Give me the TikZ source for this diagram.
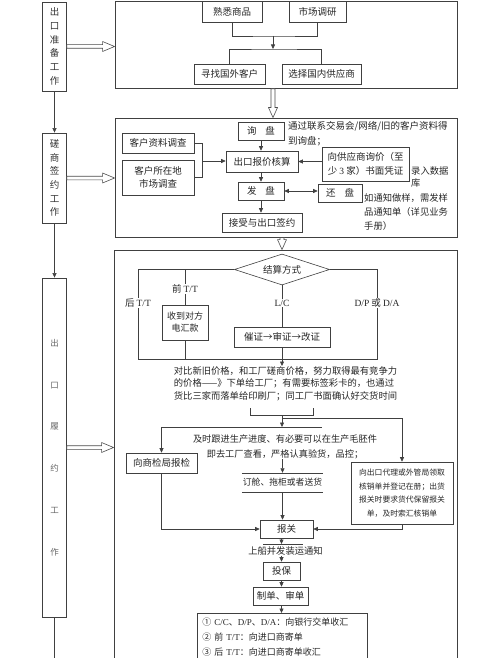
\documentclass[tikz,border=0pt]{standalone}
\usepackage{fontspec}
\setmainfont{Liberation Serif}
\newfontfamily\cjk{Noto Sans CJK SC}
\newfontfamily\lat{Liberation Serif}
\usetikzlibrary{arrows.meta,shapes.geometric,calc}
\newcommand\dblh[2]{\path[dbl] let \p1=(#1), \p2=(#2) in (\x1,\y1+1.8pt) -- (\x2-12pt,\y1+1.8pt) -- (\x2-12pt,\y1+5pt) -- (\x2,\y1) -- (\x2-12pt,\y1-5pt) -- (\x2-12pt,\y1-1.8pt) -- (\x1,\y1-1.8pt) -- cycle;}
\newcommand\dblv[2]{\path[dbl] let \p1=(#1), \p2=(#2) in (\x1-2pt,\y1) -- (\x1-2pt,\y2+10pt) -- (\x1-4.5pt,\y2+10pt) -- (\x1,\y2) -- (\x1+4.5pt,\y2+10pt) -- (\x1+2pt,\y2+10pt) -- (\x1+2pt,\y1) -- cycle;}
\begin{document}
\begin{tikzpicture}[x=1pt,y=-1pt,
  bx/.style={draw=black!75, line width=0.6pt, fill=white, inner sep=0pt, align=center, text=black!85,
    font=\cjk\fontsize{9.5}{13.5}\selectfont},
  frame/.style={draw=black!75, line width=0.9pt, inner sep=0pt},
  side/.style={draw=black!75, line width=0.8pt, fill=white, inner sep=0pt, minimum width=24pt, align=center,
    text=black!80, font=\cjk\fontsize{9.5}{13.7}\selectfont},
  ln/.style={draw=black!75, line width=0.6pt},
  ar/.style={ln, -{Triangle[length=4.5pt,width=4pt]}},
  dar/.style={ln, {Triangle[length=4.5pt,width=4pt]}-{Triangle[length=4.5pt,width=4pt]}},
  txt/.style={inner sep=0pt, text=black!85, font=\cjk\fontsize{9.5}{12}\selectfont},
  lbl/.style={fill=white, inner sep=1pt, text=black!85, font=\cjk\fontsize{9.5}{11}\selectfont},
  dbl/.style={draw=black!70, line width=0.6pt, fill=white}]
\fill[white] (0,0) rectangle (500,658);
\path[use as bounding box] (0,0) rectangle (500,658);

% ---------- left column ----------
\node[side, minimum height=89pt] (L1) at (54.5,46.5) {出\\口\\准\\备\\工\\作};
\node[side, minimum height=90pt] (L2) at (54.5,178) {磋\\商\\签\\约\\工\\作};
\node[side, minimum height=339pt, text=black!60, font=\cjk\fontsize{8.5}{41.8}\selectfont] (L3) at (54.5,447.5) {出\\口\\履\\约\\工\\作};
\coordinate (lend) at (55,660);
\draw[ar] (L1.south) -- (L2.north);
\draw[ar] (L2.south) -- (L3.north);
\draw[ln] (L3.south) -- (L3.south |- lend);

% ---------- frames ----------
\node[frame, minimum width=342pt, minimum height=87.5pt] (O1) at (286,44.75) {};
\node[frame, minimum width=342pt, minimum height=119pt] (O2) at (286,177.5) {};
\node[frame, minimum width=343pt, minimum height=410pt] (O3) at (285.5,455) {};

% ---------- block 1 ----------
\node[bx, minimum width=60pt, minimum height=21pt] (shx) at (232,11.5) {熟悉商品};
\node[bx, minimum width=57pt, minimum height=21pt] (scdy) at (317.5,11.5) {市场调研};
\node[bx, minimum width=71pt, minimum height=20pt] (xzgw) at (229.5,74) {寻找国外客户};
\node[bx, minimum width=79pt, minimum height=20pt] (xzgn) at (321.5,74) {选择国内供应商};
\coordinate (j1) at (273,36);
\coordinate (j2) at (273,49);
\draw[ln] (shx.south) |- (j1) -| (scdy.south);
\draw[ar] (j1) -- (j2);
\draw[ln] (xzgw.north) |- (j2) -| (xzgn.north);

% ---------- block 2 ----------
\node[bx, minimum width=46pt, minimum height=18pt] (xp) at (261,131) {询\hspace{9pt}盘};
\node[txt, anchor=north west, align=left, font=\cjk\fontsize{9.5}{15}\selectfont] (t1) at (288,121.5) {通过联系交易会/网络/旧的客户资料得\\到询盘；};
\node[bx, minimum width=72pt, minimum height=20pt] (khzl) at (158,143) {客户资料调查};
\node[bx, minimum width=72pt, minimum height=35pt] (khsz) at (158,177.5) {客户所在地\\市场调查};
\node[bx, minimum width=72pt, minimum height=21pt] (bjhs) at (262,161.5) {出口报价核算};
\node[bx, minimum width=87pt, minimum height=34pt] (gysx) at (365.5,164) {向供应商询价（至\\少 {\lat 3} 家）书面凭证};
\node[txt, anchor=north west, align=left, font=\cjk\fontsize{9.3}{12}\selectfont] (lr) at (411,166) {录入数据\\库};
\node[bx, minimum width=46pt, minimum height=18pt] (fp) at (261,191) {发\hspace{9pt}盘};
\node[bx, minimum width=44pt, minimum height=18pt] (hp) at (340,193) {还\hspace{9pt}盘};
\node[bx, minimum width=80pt, minimum height=19pt] (jsqy) at (262,222.5) {接受与出口签约};
\node[txt, anchor=north west, align=left, font=\cjk\fontsize{9.3}{14}\selectfont] (rutz) at (364,193.5) {如通知做样，需发样\\品通知单（详见业务\\手册）};
\coordinate (b1) at (202,161);
\draw[ln] (khzl.east) -| (b1);
\draw[ln] (khsz.east) -| (b1);
\draw[ar] (b1) -- (b1 -| bjhs.west);
\draw[ar] (xp.south) -- (xp.south |- bjhs.north);
\draw[ar] (gysx.west |- bjhs.east) -- (bjhs.east);
\draw[ar] (bjhs.south -| fp.north) -- (fp.north);
\draw[dar] (fp.east) -- (hp.west |- fp.east);
\draw[ar] (fp.south) -- (fp.south |- jsqy.north);

% ---------- block 3 ----------
\node[draw=black!75, line width=0.6pt, diamond, aspect=3, minimum width=95pt, minimum height=31pt, inner sep=0pt,
  text=black!85, font=\cjk\fontsize{9.5}{11}\selectfont] (jsfs) at (282,269.5) {结算方式};
\node[bx, minimum width=46pt, minimum height=35pt, font=\cjk\fontsize{9}{12}\selectfont] (sdh) at (185,322.5) {收到对方\\电汇款};
\node[bx, minimum width=96pt, minimum height=20pt] (czsz) at (282,337) {催证→审证→改证};
\coordinate (m1) at (138,359);
\coordinate (m2) at (377,359);
\draw[ln] (jsfs.west) -| (m1) -- (m2) |- (jsfs.east);
\draw[ln] (sdh.north |- jsfs.west) -- (sdh.north);
\draw[ln] (sdh.south) -- (sdh.south |- m1);
\draw[ln] (jsfs.south) -- (czsz.north);
\node[lbl] (lhou) at (138,303) {后 {\lat T/T}};
\node[lbl] (lqian) at (185,289) {前 {\lat T/T}};
\node[lbl] (llc) at (282,303) {\lat L/C};
\node[lbl] (ldp) at (377,303) {{\lat D/P} 或 {\lat D/A}};

\node[txt, anchor=north, align=left, font=\cjk\fontsize{9.3}{12.6}\selectfont] (tb1) at (285.5,366) {对比新旧价格，和工厂磋商价格，努力取得最有竞争力\\的价格——》下单给工厂；有需要标签彩卡的，也通过\\货比三家而落单给印刷厂；同工厂书面确认好交货时间};
\draw[ar] (czsz.south) -- (czsz.south |- tb1.north);
\draw[ln] (250,408) -- (250,415) -- (313,415) -- (313,408);

\node[txt, anchor=north, align=center, font=\cjk\fontsize{9.2}{14.5}\selectfont] (tb2) at (285,435) {及时跟进生产进度、有必要可以在生产毛胚件\\即去工厂查看，严格认真验货，品控；};
\node[bx, minimum width=71pt, minimum height=20pt] (jyj) at (161.5,463) {向商检局报检};
\node[bx, minimum width=102pt, minimum height=62pt, font=\cjk\fontsize{7.8}{13.5}\selectfont] (dl) at (402,493) {向出口代理或外管局领取\\核销单并登记在册；出货\\报关时要求货代保留报关\\单，及时索汇核销单};
\coordinate (k0) at (282,415);
\coordinate (k1) at (282,427);
\coordinate (k2) at (402,418);
\draw[ar] (k0) -- (k1);
\draw[ln] (282,418) -- (k2);
\draw[ar] (k2) -- (dl.north);
\coordinate (k3) at (jyj.north |- k1);
\draw[ln] (k3) -- (322,427);
\draw[ar] (k3) -- (jyj.north);

\node[txt, minimum width=81pt, minimum height=19pt, font=\cjk\fontsize{8.8}{11}\selectfont] (dc) at (282.5,482.5) {订舱、拖柜或者送货};
\draw[ln] (dc.north west) -- (dc.north east);
\draw[ln] (dc.south west) -- (dc.south east);
\draw[ar] (tb2.south -| dc.north) -- (dc.north);

\node[bx, minimum width=53pt, minimum height=18pt] (bg) at (286.5,529) {报关};
\draw[ar] (dc.south) -- (dc.south |- bg.north);
\draw[ar] (jyj.south) |- (bg.west);
\draw[ar] (dl.south) |- (bg.east);

\node[txt, font=\cjk\fontsize{9.3}{11}\selectfont] (sc) at (285.5,551) {上船并发装运通知};
\draw[ln] (263,544) -- (303,544);
\node[bx, minimum width=37pt, minimum height=18pt] (tb) at (281.5,571) {投保};
\node[bx, minimum width=55pt, minimum height=18pt] (zd) at (280.5,596) {制单、审单};
\node[bx, anchor=north west, minimum width=170pt, minimum height=48pt, text width=160pt, inner xsep=5pt, align=left,
  font=\cjk\fontsize{9}{15}\selectfont] (fin) at (197,613) {① {\lat C/C}、{\lat D/P}、{\lat D/A}：向银行交单收汇\\② 前 {\lat T/T}：向进口商寄单\\③ 后 {\lat T/T}：向进口商寄单收汇};
\draw[ar] (bg.south -| tb.north) -- (tb.north |- 0,544);
\draw[ar] (sc.south -| tb.north) -- (tb.north);
\draw[ar] (tb.south) -- (tb.south |- zd.north);
\draw[ar] (zd.south -| tb.south) -- (tb.south |- fin.north);

% ---------- double arrows ----------
\dblh{L1.east}{O1.west |- L1.east}
\dblh{L2.east}{O2.west |- L2.east}
\dblh{L3.east}{O3.west |- L3.east}
\dblv{O1.south -| j2}{O2.north -| j2}
\dblv{O2.south -| jsfs.north}{O3.north -| jsfs.north}
\end{tikzpicture}
\end{document}
